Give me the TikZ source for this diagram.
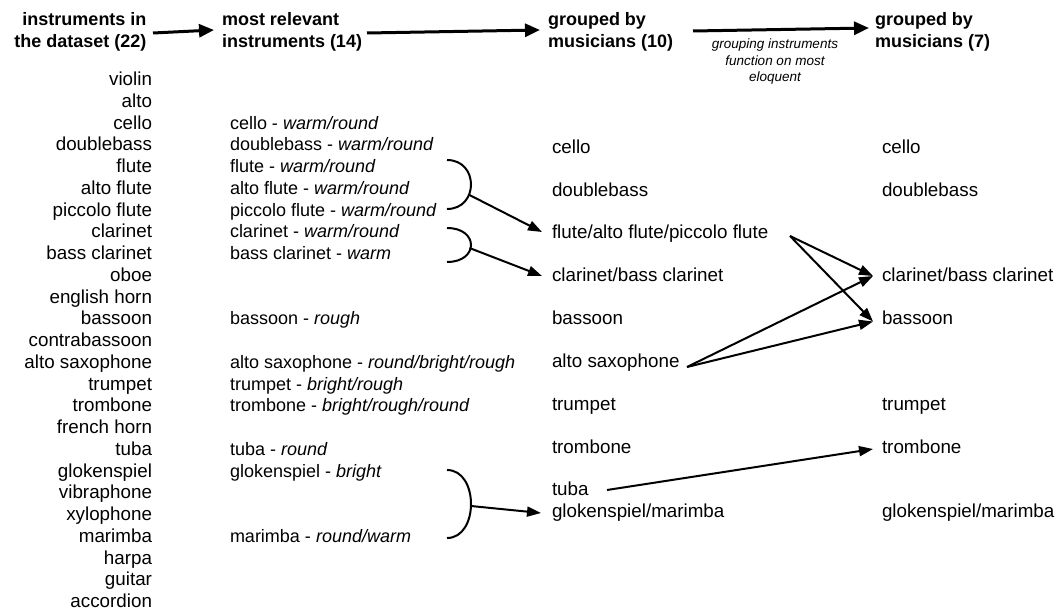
\documentclass[tikz,border=0pt]{standalone}
\usepackage{fontspec}
\setmainfont{Liberation Sans}
\usetikzlibrary{arrows.meta}
\begin{document}
\begin{tikzpicture}[x=1pt,y=-1pt,
  item/.style={inner sep=0pt, outer sep=0pt, font=\fontsize{18.8}{22}\selectfont},
  lcol/.style={item, anchor=base east},
  rcol/.style={item, anchor=base west},
  mcol/.style={item, anchor=base west, font=\fontsize{18}{22}\selectfont},
  head/.style={inner sep=0pt, outer sep=0pt, font=\fontsize{18}{22}\selectfont\bfseries},
  harr/.style={line width=3pt, -{Triangle[length=15pt,width=13pt]}},
  arr/.style={line width=2pt, -{Triangle[length=14pt,width=10pt]}},
  brk/.style={line width=2pt},
]
\useasboundingbox (0,0) rectangle (1062,610);

% headers
\node[head, align=right, anchor=north east] (h1) at (146.5,12.1) {instruments in\\the dataset (22)};
\node[head, align=left, anchor=north west] (h2) at (222,12.1) {most relevant\\instruments (14)};
\node[head, align=left, anchor=north west] (h3) at (548,12.1) {grouped by\\musicians (10)};
\node[head, align=left, anchor=north west] (h4) at (875,12.1) {grouped by\\musicians (7)};
\node[inner sep=0pt, align=center, anchor=north, font=\fontsize{13.5}{16.5}\selectfont\itshape] (lbl) at (775,39) {grouping instruments\\function on most\\eloquent};

\coordinate (h1s) at (153,33);
\coordinate (h1e) at (214,30);
\coordinate (h2s) at (367,33);
\coordinate (h2e) at (540,30);
\coordinate (h3s) at (693,31);
\coordinate (h3e) at (869,28);
\draw[harr] (h1s) -- (h1e);
\draw[harr] (h2s) -- (h2e);
\draw[harr] (h3s) -- (h3e);

% column 1
\foreach \t [count=\i from 0] in {violin, alto, cello, doublebass, flute, alto flute, piccolo flute, clarinet, bass clarinet, oboe, english horn, bassoon, contrabassoon, alto saxophone, trumpet, trombone, french horn, tuba, glokenspiel, vibraphone, xylophone, marimba, harpa, guitar, accordion}
  \node[lcol] (l\i) at (152,{85.7+21.75*\i}) {\t};

% column 2
\node[mcol] (m2) at (230,129.2) {cello - \textit{warm/round}};
\node[mcol] (m3) at (230,150.95) {doublebass - \textit{warm/round}};
\node[mcol] (m4) at (230,172.7) {flute - \textit{warm/round}};
\node[mcol] (m5) at (230,194.45) {alto flute - \textit{warm/round}};
\node[mcol] (m6) at (230,216.2) {piccolo flute - \textit{warm/round}};
\node[mcol] (m7) at (230,237.95) {clarinet - \textit{warm/round}};
\node[mcol] (m8) at (230,259.7) {bass clarinet - \textit{warm}};
\node[mcol] (m11) at (230,324.95) {bassoon - \textit{rough}};
\node[mcol] (m13) at (230,368.45) {alto saxophone - \textit{round/bright/rough}};
\node[mcol] (m14) at (230,390.2) {trumpet - \textit{bright/rough}};
\node[mcol] (m15) at (230,411.95) {trombone - \textit{bright/rough/round}};
\node[mcol] (m17) at (230,455.45) {tuba - \textit{round}};
\node[mcol] (m18) at (230,477.2) {glokenspiel - \textit{bright}};
\node[mcol] (m21) at (230,542.45) {marimba - \textit{round/warm}};

% column 3
\node[rcol] (c3a) at (552,153) {cello};
\node[rcol] (c3b) at (552,196) {doublebass};
\node[rcol] (c3c) at (552,238.5) {flute/alto flute/piccolo flute};
\node[rcol] (c3d) at (552,281) {clarinet/bass clarinet};
\node[rcol] (c3e) at (552,324) {bassoon};
\node[rcol] (c3f) at (552,367) {alto saxophone};
\node[rcol] (c3g) at (552,410) {trumpet};
\node[rcol] (c3h) at (552,453) {trombone};
\node[rcol] (c3i) at (552,495) {tuba};
\node[rcol] (c3j) at (552,517) {glokenspiel/marimba};

% column 4
\node[rcol] (c4a) at (882,153) {cello};
\node[rcol] (c4b) at (882,196) {doublebass};
\node[rcol] (c4d) at (882,281) {clarinet/bass clarinet};
\node[rcol] (c4e) at (882,324) {bassoon};
\node[rcol] (c4g) at (882,410) {trumpet};
\node[rcol] (c4h) at (882,453) {trombone};
\node[rcol] (c4j) at (882,517) {glokenspiel/marimba};

% brackets
\coordinate (b1t) at (447,160);
\coordinate (b1b) at (447,209);
\coordinate (b1o) at (469.5,195);
\coordinate (b2t) at (447,228);
\coordinate (b2b) at (447,262);
\coordinate (b2o) at (469.5,248);
\coordinate (b3t) at (447,470);
\coordinate (b3b) at (447,538);
\coordinate (b3o) at (471,506);
\draw[brk] (b1t) .. controls (479,160) and (479,209) .. (b1b);
\draw[brk] (b2t) .. controls (479,228) and (479,262) .. (b2b);
\draw[brk] (b3t) .. controls (479,470) and (479,538) .. (b3b);

% arrows col2 -> col3
\coordinate (t1) at (542,232);
\coordinate (t2) at (542,276);
\coordinate (t3) at (541,513);
\draw[arr] (b1o) -- (t1);
\draw[arr] (b2o) -- (t2);
\draw[arr] (b3o) -- (t3);

% arrows col3 -> col4
\coordinate (fl) at (790,236);
\coordinate (sx) at (687,367);
\coordinate (tu) at (607,490);
\coordinate (tcl) at (873,276);
\coordinate (tbs) at (873,321.5);
\coordinate (ttb) at (873,449);
\draw[arr] (fl) -- (tcl);
\draw[arr] (fl) -- (tbs);
\draw[arr] (sx) -- (tcl);
\draw[arr] (sx) -- (tbs);
\draw[arr] (tu) -- (ttb);
\end{tikzpicture}
\end{document}
